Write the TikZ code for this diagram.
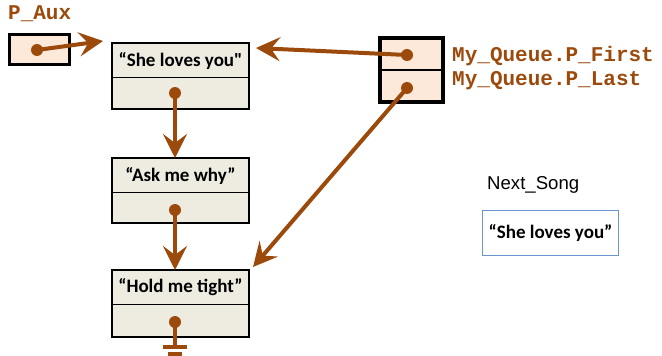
\documentclass[tikz,border=0pt]{standalone}
\usepackage{fontspec}
\newfontfamily\calib{Carlito}
\newfontfamily\arialf{Liberation Sans}
\newfontfamily\courf{Liberation Mono}
\usetikzlibrary{arrows.meta,calc}
\definecolor{brn}{HTML}{9C4A0C}
\definecolor{beige}{HTML}{EEEBE0}
\definecolor{peach}{HTML}{FDE9DA}
\definecolor{bluebd}{HTML}{6A96D0}
\tikzset{
  x=1pt, y=-1pt,
  cell/.style={draw=black, line width=1pt, fill=beige, minimum width=136pt, inner sep=0pt, anchor=north west},
  celltxt/.style={font=\calib\bfseries\fontsize{19}{19}\selectfont},
  outer/.style={draw=black, line width=2.8pt},
  pcell/.style={draw=black, line width=2.2pt, fill=peach, minimum width=61pt, inner sep=0pt, anchor=north west},
  dot/.style={circle, fill=brn, inner sep=0pt, minimum size=12pt},
  ptr/.style={draw=brn, line width=4pt, -{Stealth[length=24pt,width=24pt,inset=9pt]}},
  wire/.style={draw=brn, line width=4pt},
  lbl/.style={text=brn, font=\courf\bfseries\fontsize{21}{21}\selectfont, inner sep=0pt},
}
\begin{document}
\begin{tikzpicture}
\useasboundingbox (0,0) rectangle (662,356);

% P_Aux
\node[lbl, anchor=west] (pauxl) at (8,14) {P\_Aux};
\node[draw=black, line width=2.8pt, fill=peach, minimum width=60pt, minimum height=30pt, inner sep=0pt, anchor=north west] (paux) at (8,33) {};
\node[dot] (dpa) at (37,50) {};

% list nodes
\node[cell, minimum height=34pt] (n1t) at (112,43) {};
\node[celltxt] at (n1t) {“She loves you"};
\node[cell, minimum height=31pt] (n1b) at (112,77) {};
\draw[outer] (n1t.north west) rectangle (n1b.south east);

\node[cell, minimum height=34pt] (n2t) at (112,158) {};
\node[celltxt] at (n2t) {“Ask me why”};
\node[cell, minimum height=30pt] (n2b) at (112,192) {};
\draw[outer] (n2t.north west) rectangle (n2b.south east);

\node[cell, minimum height=34pt] (n3t) at (112,270) {};
\node[celltxt] at (n3t) {“Hold me tight”};
\node[cell, minimum height=32pt] (n3b) at (112,304) {};
\draw[outer] (n3t.north west) rectangle (n3b.south east);

\node[dot] (d1) at (175,93) {};
\node[dot] (d2) at (175,210) {};
\node[dot] (d3) at (175,322) {};

% queue
\node[pcell, minimum height=31pt] (q1) at (380,38) {};
\node[pcell, minimum height=31pt] (q2) at (380,69) {};
\draw[black, line width=3.2pt] (q1.north west) rectangle (q2.south east);
\node[dot] (dq1) at (407,55) {};
\node[dot] (dq2) at (407,88) {};
\node[lbl, anchor=west] (qf) at (452,56) {My\_Queue.P\_First};
\node[lbl, anchor=west] (ql) at (452,81) {My\_Queue.P\_Last};

% targets
\coordinate (t0) at ($(n1t.north west)+(-9,-2)$);
\coordinate (t1) at ($(n1t.north east)+(7,5)$);
\coordinate (t3) at ($(n3t.north east)+(4,-3)$);
\coordinate (g1) at (175,347);

% pointers
\draw[ptr] (dpa.center) -- (t0);
\draw[ptr] (dq1.center) -- (t1);
\draw[ptr] (dq2.center) -- (t3);
\draw[ptr] (d1.center) -- (n2t.north -| d1);
\draw[ptr] (d2.center) -- (n3t.north -| d2);
\draw[wire] (d3.center) -- (g1);
\draw[wire] ($(g1)+(-12,0)$) -- ($(g1)+(12,0)$);
\draw[wire] ($(g1)+(-7,7)$) -- ($(g1)+(7,7)$);

% Next_Song
\node[font=\arialf\fontsize{18.6}{18.6}\selectfont, anchor=west, inner sep=0pt] (nsl) at (487,185) {Next\_Song};
\node[draw=bluebd, line width=1pt, minimum width=136pt, minimum height=45pt, inner sep=0pt, anchor=north west] (ns) at (482,210) {};
\node[celltxt] at (ns) {“She loves you”};
\end{tikzpicture}
\end{document}
